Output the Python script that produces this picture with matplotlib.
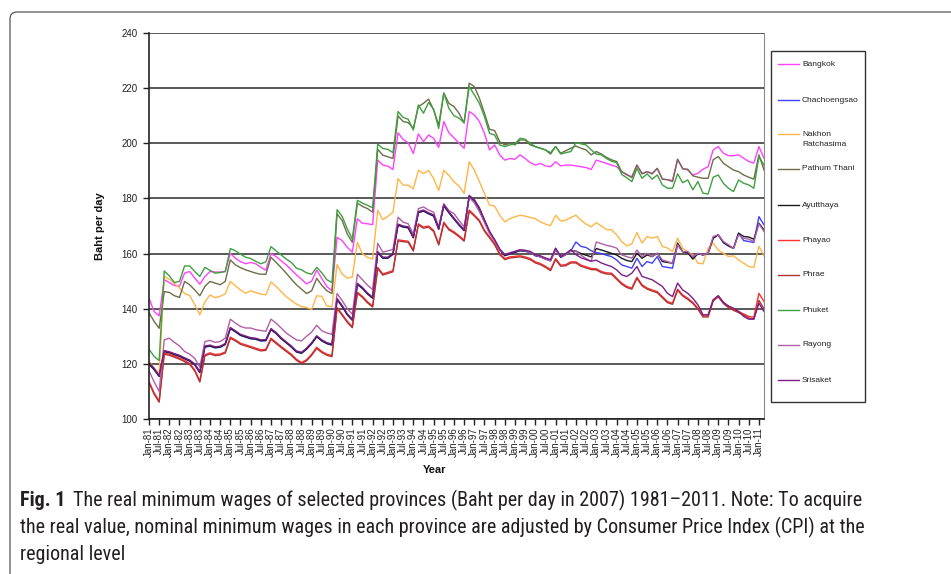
import numpy as np
import matplotlib.pyplot as plt
from matplotlib.lines import Line2D
from matplotlib.patches import FancyBboxPatch, Rectangle
from matplotlib import font_manager

W, H = 951, 574

# tick labels every half year, data is quarterly (Jan-81 .. Apr-11)
tick_labels = ['%s-%02d' % (m, y % 100) for y in range(1981, 2012) for m in ('Jan', 'Jul')][:61]

provinces = ['Bangkok', 'Chachoengsao', 'Nakhon Ratchasima', 'Pathum Thani', 'Ayutthaya',
             'Phayao', 'Phrae', 'Phuket', 'Rayong', 'Srisaket']
legend_labels = ['Bangkok', 'Chachoengsao', 'Nakhon\nRatchasima', 'Pathum Thani', 'Ayutthaya',
                 'Phayao', 'Phrae', 'Phuket', 'Rayong', 'Srisaket']
colors = ['#ff40ff', '#4040ff', '#ffb547', '#6e6e4a', '#1a1a1a',
          '#ff3030', '#b03434', '#3fa03f', '#b05fa8', '#7a1f86']

bangkok = [143.8, 139.0, 137.4, 150.5, 149.5, 148.4, 148.2, 152.9, 153.5, 151.1,
           148.9, 151.7, 153.5, 153.3, 153.3, 153.5, 160.1, 158.3, 157.1, 156.3,
           156.8, 156.3, 155.0, 154.0, 160.1, 158.9, 157.4, 155.9, 154.1, 152.3,
           150.7, 149.0, 150.0, 154.0, 151.0, 148.0, 146.5, 165.9, 164.7, 162.3,
           160.5, 172.6, 171.0, 170.8, 170.5, 193.9, 192.1, 191.7, 190.5, 203.8,
           201.4, 200.2, 196.3, 203.4, 200.6, 203.0, 201.8, 198.5, 207.9, 203.8,
           202.0, 200.0, 198.2, 211.5, 210.3, 207.9, 203.6, 197.6, 199.4, 195.8,
           193.9, 194.5, 194.2, 195.8, 194.5, 193.0, 192.1, 192.7, 191.8, 191.5,
           193.3, 191.8, 192.1, 192.1, 191.8, 191.5, 191.2, 190.5, 193.9, 193.3,
           192.7, 192.1, 191.5, 189.7, 188.5, 187.9, 192.1, 189.1, 189.7, 189.1,
           190.9, 187.0, 186.8, 186.5, 194.2, 190.9, 190.3, 188.5, 189.1, 190.6,
           191.5, 197.6, 198.8, 196.4, 195.5, 195.5, 195.8, 194.6, 193.4, 192.8,
           198.8, 194.6]

chachoengsao = [119.8, 117.9, 115.4, 124.4, 124.0, 123.3, 122.7, 121.8, 121.0, 119.6,
                116.8, 126.1, 126.4, 125.8, 126.0, 127.0, 132.8, 131.6, 130.3, 129.7,
                129.1, 128.9, 128.3, 128.4, 132.4, 131.0, 129.1, 127.6, 126.1, 124.3,
                123.8, 125.3, 127.3, 129.8, 128.3, 127.3, 126.8, 143.3, 140.8, 137.8,
                135.8, 148.8, 147.3, 145.3, 143.8, 160.3, 158.3, 158.3, 159.7, 170.3,
                169.6, 169.3, 165.7, 174.8, 175.4, 174.4, 173.6, 168.8, 177.3, 174.8,
                172.5, 170.3, 168.3, 180.7, 179.2, 176.2, 171.9, 167.7, 164.7, 161.3,
                159.2, 159.8, 160.4, 161.0, 160.8, 160.4, 159.2, 158.8, 158.0, 157.4,
                161.6, 158.6, 159.6, 161.0, 164.2, 162.6, 162.2, 161.0, 160.4, 160.0,
                159.4, 158.9, 157.7, 155.9, 155.3, 154.7, 158.3, 155.3, 157.1, 156.5,
                158.9, 155.3, 155.0, 154.7, 163.2, 160.7, 160.3, 158.2, 160.0, 159.5,
                160.1, 165.6, 166.8, 164.0, 162.8, 161.9, 167.4, 164.7, 164.4, 164.0,
                173.4, 170.4]

nakhon = [121.0, 118.5, 116.5, 151.7, 150.7, 149.2, 147.5, 145.5, 144.8, 141.5,
          137.8, 142.5, 145.0, 144.0, 144.5, 145.4, 149.9, 148.3, 146.8, 145.6,
          146.5, 145.9, 145.3, 145.0, 149.7, 148.1, 146.2, 144.4, 143.0, 141.7,
          140.8, 140.4, 139.8, 144.7, 144.5, 141.0, 140.7, 156.0, 152.6, 151.1,
          151.5, 164.1, 159.9, 158.6, 158.0, 175.7, 172.3, 173.5, 175.0, 187.2,
          184.8, 184.8, 183.5, 190.2, 189.0, 190.2, 187.2, 182.9, 190.2, 188.4,
          186.0, 184.5, 181.8, 193.3, 190.3, 186.1, 181.8, 177.6, 177.2, 173.9,
          171.5, 172.7, 173.3, 173.9, 173.6, 173.1, 172.7, 171.5, 170.7, 170.1,
          173.9, 171.8, 172.1, 173.1, 173.9, 172.1, 170.7, 169.7, 171.2, 170.0,
          168.7, 168.6, 166.8, 164.4, 162.8, 163.5, 167.6, 163.8, 166.2, 165.6,
          166.2, 162.6, 162.0, 160.7, 165.6, 161.9, 160.7, 159.5, 156.5, 156.3,
          161.9, 163.8, 161.3, 160.1, 158.9, 159.2, 157.7, 156.5, 155.3, 155.0,
          162.6, 159.2]

pathum = [138.6, 135.4, 132.9, 146.2, 145.9, 144.7, 144.1, 149.9, 148.7, 146.8,
          144.7, 148.1, 149.9, 149.3, 148.7, 149.9, 157.7, 155.9, 154.9, 154.1,
          153.5, 152.9, 152.5, 152.5, 158.7, 156.8, 154.9, 152.9, 150.7, 148.7,
          147.1, 145.5, 146.5, 151.0, 148.5, 146.5, 145.5, 174.4, 172.0, 167.1,
          164.1, 178.3, 177.1, 176.3, 175.0, 197.8, 195.7, 195.1, 194.5, 209.9,
          207.9, 207.5, 205.4, 213.3, 214.5, 216.0, 212.1, 206.6, 218.2, 214.5,
          213.3, 210.9, 207.3, 221.8, 220.6, 216.4, 210.9, 205.1, 204.6, 200.6,
          199.4, 200.0, 199.4, 201.2, 201.2, 199.4, 198.8, 198.2, 197.6, 196.1,
          198.8, 196.4, 197.3, 198.2, 199.0, 198.2, 197.6, 195.8, 197.0, 196.1,
          194.9, 194.0, 193.4, 189.7, 188.7, 187.5, 192.1, 188.9, 189.7, 188.9,
          190.9, 187.0, 186.8, 186.1, 194.2, 190.7, 190.6, 188.2, 187.7, 187.3,
          187.3, 194.0, 195.2, 192.8, 191.5, 190.3, 189.7, 188.5, 187.7, 187.0,
          195.8, 190.3]

ayutthaya = [120.0, 118.0, 115.5, 124.5, 124.1, 123.4, 122.8, 121.9, 121.1, 119.7,
             116.9, 126.2, 126.5, 125.9, 126.1, 127.1, 132.9, 131.7, 130.4, 129.8,
             129.2, 129.0, 128.4, 128.5, 132.5, 131.1, 129.2, 127.7, 126.2, 124.4,
             123.9, 125.4, 127.4, 129.9, 128.4, 127.4, 126.9, 143.4, 140.9, 137.9,
             135.9, 148.9, 147.4, 145.4, 143.9, 160.4, 158.4, 158.4, 159.8, 170.4,
             169.7, 169.4, 165.8, 174.9, 175.5, 174.5, 173.7, 168.9, 177.4, 174.9,
             172.6, 170.4, 168.4, 180.8, 179.3, 176.3, 172.0, 167.8, 164.8, 161.4,
             159.3, 159.9, 160.5, 161.1, 160.9, 160.5, 159.3, 158.9, 158.1, 157.5,
             161.7, 158.7, 159.7, 161.1, 160.9, 160.0, 159.4, 158.8, 161.8, 161.3,
             160.7, 160.1, 159.5, 158.3, 157.5, 157.1, 160.1, 158.3, 159.5, 158.9,
             160.1, 157.1, 156.8, 156.5, 163.8, 160.7, 160.3, 158.0, 160.0, 159.5,
             160.1, 165.6, 166.8, 164.0, 162.8, 161.9, 167.4, 166.2, 166.0, 165.2,
             171.0, 168.6]

phayao = [113.6, 109.5, 106.5, 123.9, 123.5, 122.8, 122.1, 121.2, 120.2, 117.8,
          113.8, 123.3, 124.0, 123.4, 123.6, 124.3, 129.7, 128.7, 127.5, 126.9,
          126.3, 125.7, 125.1, 125.3, 129.3, 127.8, 126.3, 124.9, 123.5, 121.7,
          120.5, 121.5, 123.5, 126.0, 124.5, 123.5, 123.0, 140.5, 138.0, 135.5,
          133.5, 146.0, 144.5, 142.5, 141.0, 155.0, 152.6, 153.2, 153.8, 165.0,
          164.7, 164.5, 161.3, 170.8, 169.6, 170.0, 168.4, 163.5, 171.4, 169.0,
          167.9, 166.5, 164.9, 175.8, 174.0, 172.1, 168.5, 166.1, 163.6, 160.0,
          158.2, 158.8, 159.0, 159.2, 158.8, 158.2, 157.0, 156.4, 155.4, 154.2,
          158.2, 155.8, 156.0, 157.0, 157.0, 155.8, 155.2, 154.6, 154.5, 153.5,
          153.0, 152.9, 151.1, 149.3, 148.1, 147.5, 151.4, 148.7, 147.5, 146.8,
          146.2, 144.4, 142.6, 142.0, 147.1, 145.0, 143.8, 142.3, 140.2, 137.4,
          137.4, 143.2, 144.7, 142.3, 140.8, 139.8, 139.0, 138.1, 137.2, 136.9,
          145.6, 142.6]

phrae = [113.2, 109.0, 106.1, 123.5, 123.1, 122.4, 121.7, 120.8, 119.8, 117.4,
         113.4, 122.9, 123.6, 123.0, 123.2, 123.9, 129.3, 128.3, 127.1, 126.5,
         125.9, 125.3, 124.7, 124.9, 128.9, 127.4, 125.9, 124.5, 123.1, 121.3,
         120.1, 121.1, 123.1, 125.6, 124.1, 123.1, 122.6, 140.1, 137.6, 135.1,
         133.1, 145.6, 144.1, 142.1, 140.6, 154.6, 152.2, 152.8, 153.4, 164.6,
         164.3, 164.1, 160.9, 170.4, 169.2, 169.6, 168.0, 163.1, 171.0, 168.6,
         167.5, 166.1, 164.5, 175.4, 173.6, 171.7, 168.1, 165.7, 163.2, 159.6,
         157.8, 158.4, 158.6, 158.8, 158.4, 157.8, 156.6, 156.0, 155.0, 153.8,
         157.8, 155.4, 155.6, 156.6, 156.6, 155.4, 154.8, 154.2, 154.1, 153.1,
         152.6, 152.5, 150.7, 148.9, 147.7, 147.1, 151.0, 148.3, 147.1, 146.4,
         145.8, 144.0, 142.2, 141.6, 146.7, 144.6, 143.4, 141.9, 139.8, 137.0,
         137.0, 142.8, 144.3, 141.9, 140.4, 139.4, 138.6, 137.7, 136.6, 136.3,
         143.0, 140.0]

phuket = [125.3, 122.7, 121.2, 153.7, 151.9, 149.5, 149.9, 155.5, 155.5, 153.5,
          151.7, 155.0, 153.9, 152.9, 153.1, 153.5, 161.8, 161.0, 159.8, 158.7,
          158.2, 157.2, 156.3, 157.0, 162.5, 161.0, 159.5, 158.0, 156.8, 154.7,
          154.1, 153.0, 152.5, 155.0, 153.0, 150.5, 149.5, 175.9, 173.5, 169.0,
          165.3, 179.3, 178.3, 177.5, 176.6, 199.7, 198.1, 197.8, 196.6, 211.5,
          209.4, 208.7, 204.8, 213.9, 210.9, 214.8, 212.3, 205.4, 218.2, 212.7,
          210.0, 209.1, 207.5, 220.6, 217.6, 214.5, 209.7, 203.6, 203.0, 199.4,
          198.8, 199.4, 199.8, 201.8, 201.5, 200.0, 198.8, 198.2, 197.6, 196.6,
          198.8, 196.1, 196.6, 197.0, 200.2, 199.8, 199.4, 197.6, 196.1, 195.8,
          194.5, 193.5, 193.0, 188.7, 187.5, 186.1, 190.9, 187.3, 188.9, 187.0,
          188.5, 184.9, 183.7, 183.7, 188.9, 185.7, 186.7, 183.1, 186.1, 181.9,
          181.6, 187.7, 188.5, 185.5, 183.7, 182.5, 186.7, 185.5, 184.9, 183.7,
          195.2, 192.1]

rayong = [117.5, 113.5, 110.0, 128.7, 129.3, 127.8, 126.5, 124.5, 123.5, 122.0,
          118.8, 128.1, 128.5, 127.8, 128.1, 129.3, 136.2, 134.8, 133.6, 133.0,
          133.0, 132.4, 132.1, 131.8, 136.2, 134.8, 133.0, 131.2, 129.9, 128.7,
          128.3, 130.0, 131.5, 134.0, 132.0, 131.2, 130.7, 145.5, 143.0, 140.0,
          138.0, 152.5, 150.5, 148.5, 147.0, 163.7, 160.5, 161.0, 161.5, 173.2,
          171.4, 170.8, 167.1, 176.3, 176.9, 175.8, 175.0, 169.6, 178.1, 175.6,
          174.5, 172.0, 169.7, 180.4, 178.4, 175.2, 171.2, 167.3, 164.6, 161.3,
          159.7, 160.3, 160.8, 161.3, 161.0, 160.4, 159.4, 158.8, 158.0, 157.3,
          161.3, 158.9, 159.6, 160.9, 161.0, 159.4, 158.2, 157.2, 164.2, 163.6,
          163.0, 162.6, 162.0, 159.5, 158.9, 158.3, 161.3, 158.9, 160.1, 158.9,
          160.1, 157.7, 157.1, 156.5, 163.2, 160.7, 160.7, 158.9, 160.1, 159.5,
          160.1, 166.2, 166.8, 164.4, 163.2, 161.9, 166.8, 165.6, 165.2, 164.4,
          170.8, 168.0]

srisaket = [120.5, 118.4, 115.8, 124.8, 124.4, 123.7, 123.1, 122.2, 121.4, 120.0,
            117.2, 126.5, 126.8, 126.2, 126.4, 127.4, 133.2, 132.0, 130.7, 130.1,
            129.5, 129.3, 128.7, 128.8, 132.8, 131.4, 129.5, 128.0, 126.5, 124.7,
            124.2, 125.7, 127.7, 130.2, 128.7, 127.7, 127.2, 143.7, 141.2, 138.2,
            136.2, 149.2, 147.7, 145.7, 144.2, 160.7, 158.7, 158.7, 160.1, 170.7,
            170.0, 169.7, 166.1, 175.2, 175.8, 174.8, 174.0, 169.2, 177.7, 175.2,
            172.9, 170.7, 168.7, 181.1, 179.6, 176.6, 172.3, 168.1, 165.1, 161.7,
            159.6, 160.2, 160.8, 161.4, 161.2, 160.8, 159.6, 159.2, 158.4, 157.8,
            162.0, 159.0, 160.0, 161.4, 159.6, 158.5, 157.8, 157.2, 157.6, 156.6,
            155.9, 155.3, 154.1, 152.3, 151.7, 152.9, 155.3, 151.7, 151.1, 150.5,
            149.3, 148.1, 145.6, 144.4, 149.3, 146.8, 145.6, 143.8, 141.4, 137.8,
            137.8, 143.2, 144.7, 142.3, 141.0, 140.2, 139.0, 137.2, 136.2, 136.2,
            142.0, 139.0]

series = [bangkok, chachoengsao, nakhon, pathum, ayutthaya,
          phayao, phrae, phuket, rayong, srisaket]

plt.rcParams['font.family'] = ['Liberation Sans', 'DejaVu Sans']

fig = plt.figure(figsize=(W / 100, H / 100), dpi=100)


def fx(px):
    return px / W


def fy(py):
    return 1 - py / H


# outer panel frame (cut off on the right and bottom like the screenshot)
frame = FancyBboxPatch((0.10, -0.5), 10.0, 5.62 + 0.5,
                       boxstyle='round,pad=0,rounding_size=0.07',
                       transform=fig.dpi_scale_trans, fill=False,
                       edgecolor='#555555', lw=0.9)
fig.patches.append(frame)

ax = fig.add_axes([fx(149), fy(419), 615 / W, 386 / H])
x = np.arange(len(bangkok))
for vals, c in zip(series, colors):
    ax.plot(x, vals, color=c, lw=1.0)

ax.set_xlim(0, 121)
ax.set_ylim(100, 240)
ax.set_yticks(range(100, 241, 20))
ax.yaxis.grid(True, color='#3c3c3c', lw=1.2)
ax.set_axisbelow(True)
ax.spines['top'].set_visible(False)
ax.spines['right'].set_color('#8a8a8a')
ax.spines['left'].set_color('#222222')
ax.spines['bottom'].set_color('#222222')
ax.spines['left'].set_linewidth(1.2)
ax.spines['bottom'].set_linewidth(1.2)
ax.set_xticks(np.arange(0, 121, 2))
ax.set_xticklabels(tick_labels, rotation=90, fontsize=7, color='#222222')
ax.tick_params(axis='x', length=4, width=1, color='#222222', pad=2)
ax.tick_params(axis='y', length=4, width=1, color='#222222', labelsize=7,
               labelcolor='#222222', pad=4)

fig.text(fx(100), fy(226), 'Baht per day', rotation=90, fontsize=8,
         weight='bold', ha='center', va='center', color='#111111')
fig.text(fx(435), fy(470), 'Year', fontsize=8, weight='bold',
         ha='center', va='center', color='#111111')

# legend drawn by hand to match the Excel box
fig.patches.append(Rectangle((fx(771), fy(402)), fx(865) - fx(771), fy(51) - fy(402),
                             transform=fig.transFigure, fill=False,
                             edgecolor='#333333', lw=1.0))
entry_y = [64, 100, 134, 169, 205, 240, 275, 310, 345, 380]
for lab, c, ey in zip(legend_labels, colors, entry_y):
    fig.lines.append(Line2D([fx(778), fx(799)], [fy(ey), fy(ey)],
                            transform=fig.transFigure, color=c, lw=1.0))
    for k, part in enumerate(lab.split('\n')):
        fig.text(fx(802), fy(ey + k * 10.5), part, fontsize=6,
                 ha='left', va='center', color='#222222')

# caption: prefer a condensed face like the journal's
cap_family = 'Liberation Sans'
for fam in ['Roboto Condensed', 'Liberation Sans Narrow', 'Open Sans Condensed',
            'Roboto']:
    try:
        font_manager.findfont(font_manager.FontProperties(family=fam),
                              fallback_to_default=False)
        cap_family = fam
        break
    except ValueError:
        pass

cap1 = ('The real minimum wages of selected provinces (Baht per day in 2007) '
        '1981\u20132011. Note: To acquire')
cap2 = ('the real value, nominal minimum wages in each province are adjusted by '
        'Consumer Price Index (CPI) at the')
cap3 = 'regional level'

renderer = fig.canvas.get_renderer()
fs = 12.5
t2 = fig.text(fx(20), fy(533), cap2, fontsize=fs, family=cap_family,
              ha='left', va='baseline', color='#231f20')
w2 = t2.get_window_extent(renderer).width
fs = min(fs * 907 / w2, 14.5)
t2.set_fontsize(fs)
fig.text(fx(20), fy(560), cap3, fontsize=fs, family=cap_family,
         ha='left', va='baseline', color='#231f20')
tb = fig.text(fx(20), fy(506), 'Fig. 1', fontsize=fs, family=cap_family,
              weight='bold', ha='left', va='baseline', color='#231f20')
bend = tb.get_window_extent(renderer).x1
fig.text((bend + 8) / W, fy(506), cap1, fontsize=fs, family=cap_family,
         ha='left', va='baseline', color='#231f20')

fig.savefig('out.png', dpi=100)
